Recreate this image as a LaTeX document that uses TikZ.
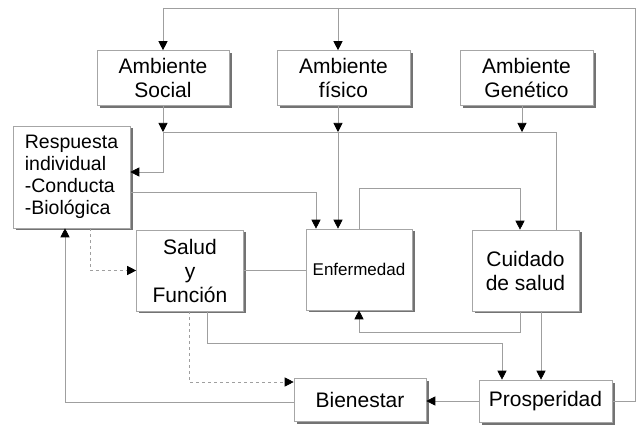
\documentclass[tikz,border=0pt]{standalone}
\usepackage{fontspec}
\setmainfont{Liberation Sans}
\usepackage{tikz}
\usetikzlibrary{arrows.meta,shadows}

\begin{document}
\begin{tikzpicture}[x=1pt, y=-1pt,
    caja/.style={draw=gray!70, line width=0.6pt, fill=white, inner sep=0pt,
      align=center, font=\fontsize{21}{24}\selectfont,
      drop shadow={shadow xshift=2.5pt, shadow yshift=-2.5pt, fill=black!55, opacity=1}},
    linea/.style={draw=gray!75, line width=0.7pt},
    flecha/.style={linea, -{Triangle[width=9pt,length=9pt,color=black]}}]
  \useasboundingbox (0,0) rectangle (641,425);

  % cajas
  \node[caja, minimum width=132, minimum height=55] (social) at (163,78) {Ambiente\\Social};
  \node[caja, minimum width=133, minimum height=55] (fisico) at (343.5,78) {Ambiente\\físico};
  \node[caja, minimum width=133, minimum height=55] (genetico) at (526.5,78) {Ambiente\\Genético};
  \node[caja, minimum width=117, minimum height=102, align=left,
        font=\fontsize{19.5}{22}\selectfont] (respuesta) at (71.5,177)
        {Respuesta\\individual\\-Conducta\\-Biológica};
  \node[caja, minimum width=107, minimum height=81] (salud) at (190,270.5) {Salud\\y\\Función};
  \node[caja, minimum width=106, minimum height=81,
        font=\fontsize{17}{20}\selectfont] (enfermedad) at (359,269.5) {Enfermedad};
  \node[caja, minimum width=107, minimum height=81] (cuidado) at (525.5,270.5) {Cuidado\\de salud};
  \node[caja, minimum width=132, minimum height=43] (bienestar) at (360,400) {Bienestar};
  \node[caja, minimum width=133, minimum height=42] (prosp) at (545.5,401) {Prosperidad};

  \coordinate (busL) at (163,132);
  \coordinate (busR) at (556,132);
  \coordinate (topL) at (163,8);
  \coordinate (topR) at (635,8);

  % lazo superior
  \draw[linea] (prosp.east) -| (topR) -- (topL);
  \draw[flecha] (topL) -- (social.north);
  \draw[flecha] ([xshift=-5.5pt]fisico.north |- topL) -- ([xshift=-5.5pt]fisico.north);

  % ambientes
  \draw[flecha] (social.south) -- (busL);
  \draw[flecha] ([xshift=-5.5pt]fisico.south) -- ([xshift=-5.5pt]fisico.south |- busL);
  \draw[flecha] ([xshift=-4.5pt]genetico.south) -- ([xshift=-4.5pt]genetico.south |- busL);
  \draw[linea] (busL) -- (busR) -- (busR |- cuidado.north);
  \draw[flecha] (busL) |- ([yshift=5pt]respuesta.east);
  \draw[flecha] ([xshift=-5.5pt]fisico.south |- busL) -- ([xshift=-21pt]enfermedad.north);

  % respuesta individual
  \draw[flecha] ([yshift=-15pt]respuesta.east) -| ([xshift=-43pt]enfermedad.north);
  \draw[flecha, dashed] ([xshift=18.5pt]respuesta.south) |- (salud.west);

  % enfermedad y cuidado
  \draw[flecha] (enfermedad.north) -- ++(0,-40) -| ([xshift=-5.5pt]cuidado.north);
  \draw[linea] (salud.east) -- (salud.east -| enfermedad.west);
  \draw[flecha] ([xshift=-5.5pt]cuidado.south) -- ++(0,21) -| (enfermedad.south);
  \draw[flecha] ([xshift=15.5pt]cuidado.south) -- ([xshift=-4.5pt]prosp.north);

  % salida
  \draw[flecha] ([xshift=17pt]salud.south) -- ++(0,32) -| ([xshift=-43.5pt]prosp.north);
  \draw[flecha, dashed] ([xshift=-1pt]salud.south) |- ([yshift=18pt]bienestar.west);
  \draw[flecha] ([yshift=-2pt]bienestar.west) -| ([xshift=-6.5pt]respuesta.south);
  \draw[flecha] (prosp.west) -- (prosp.west -| bienestar.east);
\end{tikzpicture}
\end{document}
